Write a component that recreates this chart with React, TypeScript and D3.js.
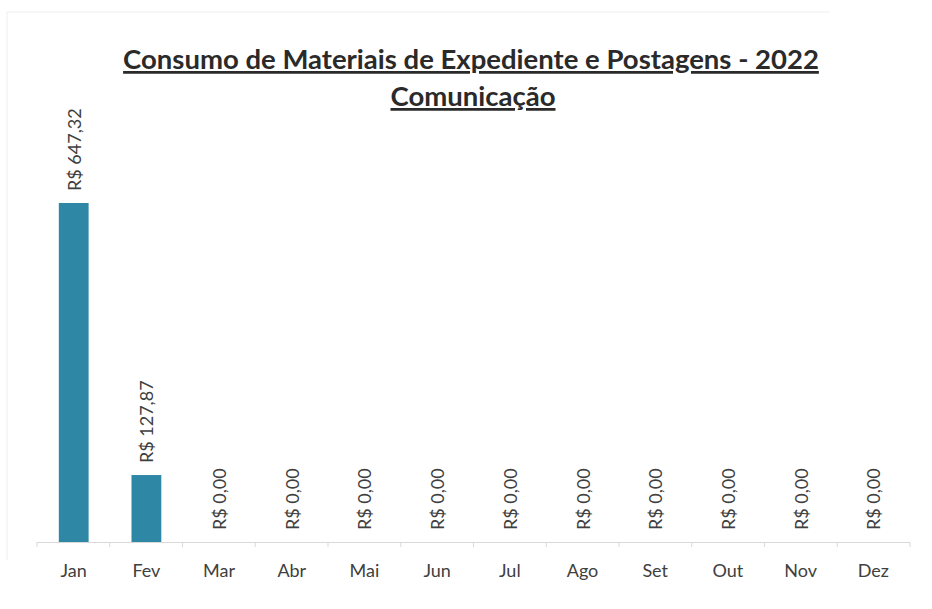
import React from "react";
import * as d3 from "d3";

const months = ["Jan", "Fev", "Mar", "Abr", "Mai", "Jun", "Jul", "Ago", "Set", "Out", "Nov", "Dez"];
const values = [647.32, 127.87, 0, 0, 0, 0, 0, 0, 0, 0, 0, 0];
const title1 = "Consumo de Materiais de Expediente e Postagens - 2022";
const title2 = "Comunicação";

const W = 932, H = 609;
const fmt = (v: number) => "R$ " + v.toFixed(2).replace(".", ",");

export default function App() {
  const x = d3.scaleBand<string>().domain(months).range([37, 910]).paddingInner(0.59).paddingOuter(0.3);
  const y = d3.scaleLinear().domain([0, 700]).range([542, 175.4]);
  const font = "Lato, 'Open Sans', sans-serif";
  const step = x.step();
  const tickXs = d3.range(months.length + 1).map((k) => 37 + (k * 873) / months.length);
  return (
    <svg width={W} height={H} style={{ position: "absolute", left: 0, top: 0, background: "#fff" }}>
      <rect x={0} y={0} width={W} height={H} fill="#fff" />
      <line x1={7} y1={12} x2={7} y2={560} stroke="#eee" />
      <line x1={7} y1={12} x2={830} y2={12} stroke="#eee" />
      <text x={471} y={69} textAnchor="middle" fontFamily={font} fontWeight="bold" fontSize={27.5} fill="#2a2a2a" textDecoration="underline">{title1}</text>
      <text x={473} y={106} textAnchor="middle" fontFamily={font} fontWeight="bold" fontSize={27.5} fill="#2a2a2a" textDecoration="underline">{title2}</text>
      {months.map((m, i) => (
        <rect key={m} x={x(m)} y={y(values[i])} width={x.bandwidth()} height={y(0) - y(values[i])} fill="#2f87a6" />
      ))}
      <line x1={37} x2={910} y1={542.5} y2={542.5} stroke="#d9d9d9" />
      {tickXs.map((tx, k) => (
        <line key={"t" + k} x1={tx} x2={tx} y1={542} y2={547} stroke="#d9d9d9" />
      ))}
      {months.map((m, i) => {
        const cx = (x(m) as number) + x.bandwidth() / 2;
        return (
          <g key={"l" + m}>
            <text transform={`translate(${cx + 7},${y(values[i]) - 12}) rotate(-90)`} fontFamily={font} fontSize={18} fill="#404040">{fmt(values[i])}</text>
            <text x={cx} y={577} textAnchor="middle" fontFamily={font} fontSize={18} fill="#404040">{m}</text>
          </g>
        );
      })}
    </svg>
  );
}
